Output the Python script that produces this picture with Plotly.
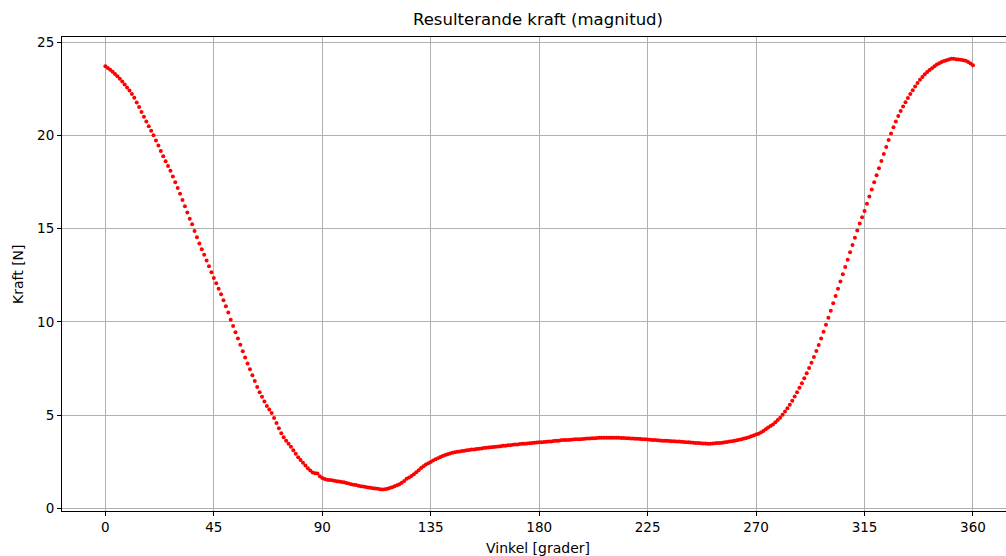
import plotly.graph_objects as go

# Resulting force magnitude, sampled once per degree of rotation
vinkel = list(range(0, 361))

kraft = [
    # 0-20
    23.70, 23.61, 23.51, 23.41, 23.29, 23.17, 23.03, 22.88, 22.72, 22.56,
    22.40, 22.22, 22.01, 21.76, 21.52, 21.25, 20.99, 20.74, 20.49, 20.24,
    # 20-45
    20.00, 19.73, 19.45, 19.16, 18.88, 18.61, 18.36, 18.10, 17.80, 17.49,
    17.18, 16.87, 16.54, 16.20, 15.86, 15.53, 15.23, 14.88, 14.54, 14.21,
    13.90, 13.60, 13.30, 12.98, 12.67,
    # 45-90
    12.36, 12.07, 11.78, 11.48, 11.17, 10.84, 10.51, 10.12, 9.78, 9.45,
    9.11, 8.78, 8.43, 8.10, 7.77, 7.46, 7.14, 6.83, 6.52, 6.24,
    5.99, 5.74, 5.49, 5.31, 5.12, 4.86, 4.58, 4.30, 4.03, 3.82,
    3.64, 3.48, 3.31, 3.13, 2.94, 2.75, 2.60, 2.45, 2.31, 2.16,
    2.04, 1.93, 1.89, 1.88, 1.73,
    # 90-135
    1.64, 1.58, 1.55, 1.53, 1.52, 1.49, 1.47, 1.45, 1.43, 1.41,
    1.37, 1.35, 1.31, 1.27, 1.26, 1.22, 1.20, 1.18, 1.15, 1.13,
    1.11, 1.09, 1.07, 1.06, 1.04, 1.02, 1.03, 1.06, 1.10, 1.14,
    1.19, 1.25, 1.31, 1.39, 1.48, 1.60, 1.66, 1.75, 1.84, 1.95,
    2.06, 2.17, 2.27, 2.36, 2.43,
    # 135-180
    2.50, 2.58, 2.64, 2.70, 2.77, 2.82, 2.87, 2.91, 2.95, 2.99,
    3.02, 3.04, 3.06, 3.08, 3.10, 3.12, 3.14, 3.16, 3.17, 3.19,
    3.20, 3.22, 3.24, 3.26, 3.27, 3.28, 3.30, 3.31, 3.33, 3.34,
    3.36, 3.37, 3.39, 3.40, 3.42, 3.43, 3.44, 3.46, 3.47, 3.48,
    3.49, 3.50, 3.52, 3.53, 3.54,
    # 180-225
    3.55, 3.56, 3.57, 3.58, 3.59, 3.60, 3.62, 3.63, 3.64, 3.66,
    3.67, 3.67, 3.68, 3.69, 3.70, 3.71, 3.72, 3.72, 3.73, 3.74,
    3.75, 3.76, 3.77, 3.77, 3.78, 3.79, 3.79, 3.79, 3.80, 3.80,
    3.80, 3.79, 3.79, 3.79, 3.78, 3.78, 3.77, 3.77, 3.76, 3.75,
    3.74, 3.74, 3.73, 3.72, 3.71,
    # 225-270
    3.70, 3.69, 3.68, 3.67, 3.66, 3.65, 3.64, 3.64, 3.63, 3.62,
    3.61, 3.61, 3.60, 3.59, 3.58, 3.57, 3.56, 3.55, 3.54, 3.53,
    3.52, 3.51, 3.50, 3.49, 3.49, 3.48, 3.48, 3.49, 3.50, 3.51,
    3.52, 3.53, 3.55, 3.57, 3.59, 3.61, 3.63, 3.66, 3.69, 3.72,
    3.75, 3.78, 3.82, 3.87, 3.92,
    # 270-315
    3.97, 4.01, 4.08, 4.16, 4.25, 4.34, 4.42, 4.51, 4.62, 4.74,
    4.87, 5.03, 5.20, 5.38, 5.57, 5.78, 6.00, 6.23, 6.47, 6.72,
    6.98, 7.25, 7.53, 7.82, 8.12, 8.44, 8.77, 9.12, 9.48, 9.85,
    10.22, 10.60, 11.00, 11.39, 11.78, 12.17, 12.56, 12.95, 13.34, 13.73,
    14.12, 14.51, 14.90, 15.28, 15.61,
    # 315-360
    15.95, 16.33, 16.72, 17.10, 17.48, 17.86, 18.24, 18.62, 19.00, 19.38,
    19.75, 20.10, 20.43, 20.74, 21.03, 21.30, 21.55, 21.78, 22.00, 22.21,
    22.42, 22.62, 22.81, 22.98, 23.13, 23.27, 23.39, 23.50, 23.60, 23.70,
    23.79, 23.87, 23.93, 23.98, 24.03, 24.07, 24.10, 24.10, 24.08, 24.06,
    24.05, 24.03, 24.00, 23.93, 23.85, 23.75,
]

x_ticks = [0, 45, 90, 135, 180, 225, 270, 315, 360]
y_ticks = [0, 5, 10, 15, 20, 25]

FONT = "DejaVu Sans"
GRID = "#b0b0b0"

fig = go.Figure()
fig.add_trace(go.Scatter(
    x=vinkel, y=kraft, mode="markers",
    marker=dict(color="#ff0000", size=4, line=dict(width=0)),
    showlegend=False, hoverinfo="x+y",
))

axis_common = dict(
    showgrid=True, gridcolor=GRID, gridwidth=1,
    zeroline=False, showline=True, linecolor="#000000", linewidth=1,
    ticks="outside", ticklen=4, tickwidth=1, tickcolor="#000000",
    tickfont=dict(family=FONT, size=13.5, color="#000000"),
)

fig.update_xaxes(range=[-18, 373.7], tickvals=x_ticks, mirror=True, **axis_common)
fig.update_yaxes(range=[-0.13, 25.27], tickvals=y_ticks, **axis_common)

fig.update_layout(
    width=1006, height=556,
    margin=dict(l=62, r=0, t=37, b=45),
    plot_bgcolor="#ffffff", paper_bgcolor="#ffffff",
    font=dict(family=FONT, color="#000000"),
    annotations=[
        dict(text="Resulterande kraft (magnitud)", xref="paper", yref="paper",
             x=0.5042, y=1.036, xanchor="center", yanchor="middle",
             showarrow=False, font=dict(family=FONT, size=16.5, color="#000000")),
        dict(text="Vinkel [grader]", xref="paper", yref="paper",
             x=0.5042, y=-0.078, xanchor="center", yanchor="middle",
             showarrow=False, font=dict(family=FONT, size=14, color="#000000")),
        dict(text="Kraft [N]", xref="paper", yref="paper",
             x=-0.0466, y=0.5, xanchor="center", yanchor="middle", textangle=-90,
             showarrow=False, font=dict(family=FONT, size=14, color="#000000")),
    ],
)

fig.write_html("out.html")
